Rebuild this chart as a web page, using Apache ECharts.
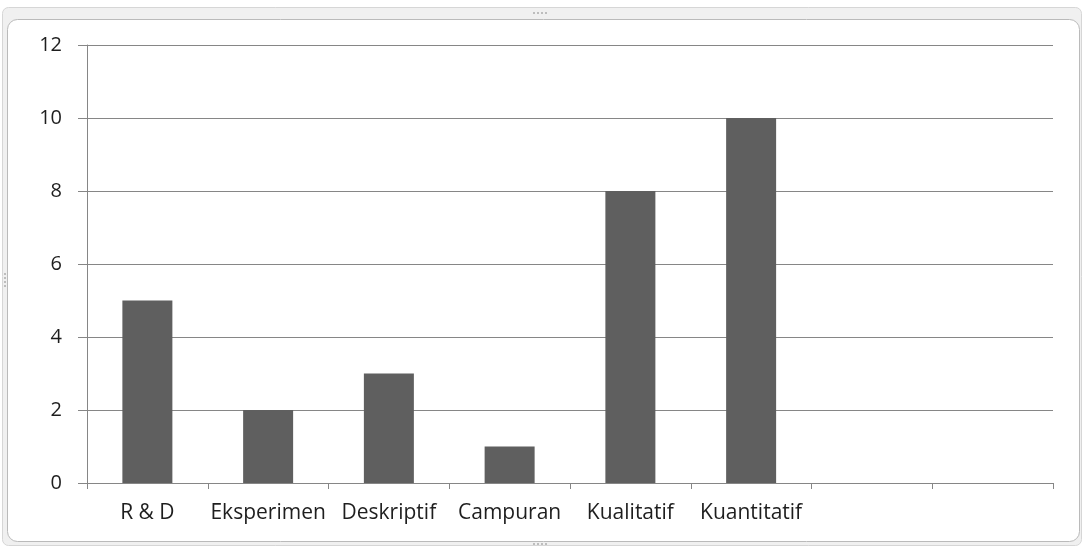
<!DOCTYPE html>
<html>
<head>
<meta charset="utf-8">
<script src="https://cdn.jsdelivr.net/npm/echarts@6/dist/echarts.min.js"></script>
<style>
  html, body { margin: 0; padding: 0; background: #ffffff; }
  #chart { width: 1082px; height: 546px; }
</style>
</head>
<body>
<div id="chart"></div>
<script>
// Jumlah penelitian per jenis metode
const categories = ['R & D', 'Eksperimen', 'Deskriptif', 'Campuran', 'Kualitatif', 'Kuantitatif', '', ''];
const values = [5, 2, 3, 1, 8, 10, null, null];
const yTicks = { min: 0, max: 12, interval: 2 };

const chart = echarts.init(document.getElementById('chart'), null, { renderer: 'canvas' });

const axisColor = '#868686';
const xLabelStyle = { fontFamily: 'Open Sans', fontSize: 21, color: '#1e1e1e' };
const yLabelStyle = { fontFamily: 'Open Sans', fontSize: 20, color: '#1e1e1e' };

// small grip dots on the frame edges
function grip(cx, cy, vertical) {
  const dots = [];
  for (let i = 0; i < 4; i++) {
    dots.push({
      type: 'rect', silent: true, z: 0,
      shape: vertical ? { x: cx - 1, y: cy - 7 + i * 4, width: 2, height: 2 }
                      : { x: cx - 7 + i * 4, y: cy - 1, width: 2, height: 2 },
      style: { fill: '#bdbdbd' }
    });
  }
  return dots;
}

chart.setOption({
  animation: false,
  backgroundColor: '#ffffff',
  graphic: [
    // outer frame band
    {
      type: 'rect', silent: true, z: -1,
      shape: { x: 2.5, y: 7.5, width: 1079, height: 538, r: 6 },
      style: { fill: '#f0f0f0', stroke: '#d6d6d6', lineWidth: 1 }
    },
    // inner frame
    {
      type: 'rect', silent: true, z: -1,
      shape: { x: 7.5, y: 19.5, width: 1072, height: 522, r: 10 },
      style: { fill: '#ffffff', stroke: '#bababa', lineWidth: 1 }
    }
  ].concat(grip(540, 13, false), grip(5, 280, true), grip(540, 544, false)),
  grid: { left: 87, right: 29, top: 45, bottom: 63, containLabel: false },
  xAxis: {
    type: 'category',
    data: categories,
    boundaryGap: true,
    axisLine: { show: true, lineStyle: { color: axisColor, width: 1 } },
    axisTick: { show: true, length: 6, alignWithLabel: false, lineStyle: { color: axisColor } },
    axisLabel: Object.assign({ margin: 20, interval: 0 }, xLabelStyle),
    splitLine: { show: false }
  },
  yAxis: {
    type: 'value',
    min: yTicks.min,
    max: yTicks.max,
    interval: yTicks.interval,
    axisLine: { show: true, lineStyle: { color: axisColor, width: 1 } },
    axisTick: { show: true, length: 9, lineStyle: { color: axisColor } },
    axisLabel: Object.assign({ margin: 25 }, yLabelStyle),
    splitLine: { show: true, lineStyle: { color: axisColor, width: 1 } }
  },
  series: [{
    type: 'bar',
    data: values,
    barWidth: 50,
    itemStyle: { color: '#5f5f5f' }
  }]
});
</script>
</body>
</html>
